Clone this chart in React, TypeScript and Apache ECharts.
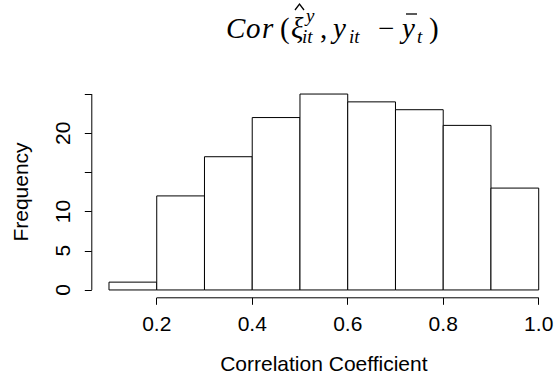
import React, { useEffect, useRef } from "react";
import * as echarts from "echarts";

// Histogram data (bin breaks and counts)
const breaks = [0.1, 0.2, 0.3, 0.4, 0.5, 0.6, 0.7, 0.8, 0.9, 1.0];
const counts = [1, 12, 17, 22, 25, 24, 23, 21, 13];

// Axis ticks and labels
const xTicks = [0.2, 0.4, 0.6, 0.8, 1.0];
const yTicks = [0, 5, 10, 15, 20, 25];
const yLabelValues = [0, 5, 10, 20];

const xTitle = "Correlation Coefficient";
const yTitle = "Frequency";

// Title pieces (math-style) : layout only; b = bottom of text box
const titleParts = [
  { t: "C", x: 226, b: 42, s: 29, it: true },
  { t: "o", x: 246, b: 42, s: 29, it: true },
  { t: "r", x: 262, b: 42, s: 29, it: true },
  { t: "(", x: 280, b: 42, s: 29, it: false },
  { t: "ξ", x: 291, b: 42, s: 29, it: true },
  { t: "y", x: 306, b: 25, s: 19, it: true },
  { t: "it", x: 302, b: 46, s: 19, it: true },
  { t: ",", x: 320, b: 42, s: 29, it: false },
  { t: "y", x: 333, b: 42, s: 29, it: true },
  { t: "it", x: 349, b: 46, s: 19, it: true },
  { t: "−", x: 378, b: 42, s: 29, it: false },
  { t: "y", x: 402, b: 42, s: 29, it: true },
  { t: "t", x: 417, b: 46, s: 19, it: true },
  { t: ")", x: 429, b: 42, s: 29, it: false },
];

export default function App() {
  const ref = useRef<HTMLDivElement>(null);
  useEffect(() => {
    if (!ref.current) return;
    const chart = echarts.init(ref.current, null, { renderer: "svg" });

    const xr = breaks[breaks.length - 1] - breaks[0];
    const xMin = breaks[0] - 0.04 * xr;
    const xMax = breaks[breaks.length - 1] + 0.04 * xr;
    const yTop = Math.max(...counts);
    const yMin = -0.04 * yTop;
    const yMax = yTop * 1.04;

    const axisFont = { fontFamily: "Liberation Sans", fontSize: 21, color: "#000" };

    const graphics: any[] = titleParts.map((p) => ({
      type: "text",
      x: p.x,
      y: p.b,
      style: {
        text: p.t,
        font: `${p.it ? "italic " : ""}${p.s}px "Liberation Serif"`,
        fill: "#000",
        align: "left",
        verticalAlign: "bottom",
      },
    }));
    graphics.push({
      type: "polyline",
      shape: { points: [[295, 10], [299.5, 4], [304, 10]] },
      style: { stroke: "#000", lineWidth: 1.3, fill: "none" },
    });
    graphics.push({
      type: "line",
      shape: { x1: 406, y1: 14, x2: 417, y2: 14 },
      style: { stroke: "#000", lineWidth: 1.3 },
    });

    const segRender = (params: any, api: any) => {
      const a = api.coord([api.value(0), api.value(1)]);
      const b = api.coord([api.value(2), api.value(3)]);
      return {
        type: "line",
        shape: { x1: a[0], y1: a[1], x2: b[0], y2: b[1] },
        style: { stroke: "#000", lineWidth: 1 },
      };
    };

    chart.setOption({
      animation: false,
      backgroundColor: "#fff",
      grid: { left: 91.8, right: 2.1, top: 86.2, bottom: 81.2, containLabel: false },
      graphic: graphics,
      xAxis: {
        type: "value",
        min: xMin,
        max: xMax,
        axisLine: { show: false, onZero: false },
        splitLine: { show: false },
        axisTick: {
          show: true,
          customValues: xTicks,
          length: 7,
          lineStyle: { color: "#000", width: 1 },
        },
        axisLabel: {
          customValues: xTicks,
          formatter: (v: number) => v.toFixed(1),
          margin: 15,
          ...axisFont,
        },
        name: xTitle,
        nameLocation: "middle",
        nameGap: 55,
        nameTextStyle: { ...axisFont },
      },
      yAxis: {
        type: "value",
        min: yMin,
        max: yMax,
        axisLine: { show: false, onZero: false },
        splitLine: { show: false },
        axisTick: {
          show: true,
          customValues: yTicks,
          length: 7,
          lineStyle: { color: "#000", width: 1 },
        },
        axisLabel: {
          customValues: yLabelValues,
          rotate: 90,
          margin: 19,
          ...axisFont,
        },
        name: yTitle,
        nameLocation: "middle",
        nameGap: 61,
        nameTextStyle: { ...axisFont },
      },
      series: [
        {
          type: "custom",
          renderItem: (params: any, api: any) => {
            const x0 = api.value(0);
            const x1 = api.value(1);
            const c = api.value(2);
            const p0 = api.coord([x0, 0]);
            const p1 = api.coord([x1, c]);
            return {
              type: "rect",
              shape: { x: p0[0], y: p1[1], width: p1[0] - p0[0], height: p0[1] - p1[1] },
              style: { fill: "#fff", stroke: "#000", lineWidth: 1 },
            };
          },
          encode: { x: [0, 1], y: 2 },
          data: counts.map((c, i) => [breaks[i], breaks[i + 1], c]),
          silent: true,
        },
        {
          type: "custom",
          renderItem: segRender,
          encode: { x: [0, 2], y: [1, 3] },
          clip: false,
          silent: true,
          data: [
            [xTicks[0], yMin, xTicks[xTicks.length - 1], yMin],
            [xMin, yTicks[0], xMin, yTicks[yTicks.length - 1]],
          ],
        },
      ],
    });
    return () => chart.dispose();
  }, []);
  return (
    <div
      ref={ref}
      style={{ position: "absolute", left: 0, top: 0, width: 558, height: 379 }}
    />
  );
}
